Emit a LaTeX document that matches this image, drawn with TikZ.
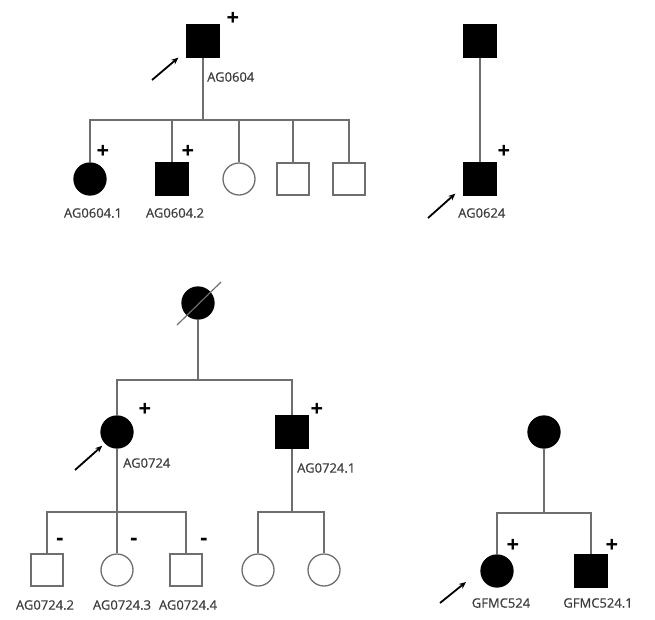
\documentclass[tikz,border=0pt]{standalone}
\usepackage{fontspec}
\setmainfont{Open Sans}
\newfontfamily\labelfont{Open Sans}[BoldFont=Open Sans, BoldFeatures={FakeBold=0.5}]
\usetikzlibrary{arrows.meta}
\definecolor{linegrey}{RGB}{110,110,110}
\definecolor{labelgrey}{RGB}{60,60,60}
\tikzset{
  male/.style={rectangle, draw=linegrey, line width=1.3pt, minimum size=32pt, inner sep=0pt},
  female/.style={circle, draw=linegrey, line width=1.3pt, minimum size=32pt, inner sep=0pt},
  affected/.style={fill=black, draw=black},
  kin/.style={draw=linegrey, line width=1.2pt},
  proband/.style={-{Stealth[length=7pt,width=6pt]}, line width=1.8pt, black},
  idlabel/.style={text=labelgrey, font=\labelfont\bfseries\fontsize{13}{15}\selectfont, inner sep=0pt},
  sign/.style={font=\fontsize{22}{22}\selectfont\bfseries, inner sep=0pt}
}
\begin{document}
\begin{tikzpicture}[x=1pt, y=-1pt]
  \useasboundingbox (0,0) rectangle (655,619);

  % family AG0604
  \node[male, affected] (f1p) at (203,41) {};
  \node[female, affected] (f1c1) at (90,179) {};
  \node[male, affected] (f1c2) at (172,179) {};
  \node[female] (f1c3) at (239,179) {};
  \node[male] (f1c4) at (293,179) {};
  \node[male] (f1c5) at (349,179) {};
  \coordinate (f1s) at (203,120);
  \draw[kin] (f1p) -- (f1s);
  \draw[kin] (f1c1.north) |- (f1s) -| (f1c5.north);
  \foreach \c in {f1c2, f1c3, f1c4}
    \draw[kin] (\c.north) -- (\c.north |- f1s);
  \node[sign] (f1pp) at (233,19) {+};
  \node[sign] (f1c1p) at (103,152) {+};
  \node[sign] (f1c2p) at (188,152) {+};
  \coordinate (f1a) at (152,80);
  \draw[proband] (f1a) -- ([shift={(-8,0)}]f1p.south west);
  \node[idlabel, anchor=west] (f1pl) at (207,77) {AG0604};
  \node[idlabel] (f1c1l) at (93,213) {AG0604.1};
  \node[idlabel] (f1c2l) at (175,213) {AG0604.2};

  % family AG0624
  \node[male, affected] (f2g) at (480,41) {};
  \node[male, affected] (f2p) at (480,179) {};
  \draw[kin] (f2g) -- (f2p);
  \node[sign] (f2pp) at (504,152) {+};
  \coordinate (f2a) at (428,218);
  \draw[proband] (f2a) -- ([shift={(-8,-2)}]f2p.south west);
  \node[idlabel, anchor=west] (f2pl) at (458,213) {AG0624};

  % family AG0724
  \node[female, affected] (f3g) at (198,303) {};
  \draw[kin] ([shift={(-21,22)}]f3g.center) -- ([shift={(23,-21)}]f3g.center);
  \node[female, affected] (f3p) at (117,432) {};
  \node[male, affected] (f3u) at (292,432) {};
  \coordinate (f3s) at (198,380);
  \draw[kin] (f3g) -- (f3s);
  \draw[kin] (f3p.north) |- (f3s) -| (f3u.north);
  \node[sign] (f3pp) at (145,410) {+};
  \node[sign] (f3up) at (317,410) {+};
  \coordinate (f3a) at (75,470);
  \draw[proband] (f3a) -- ([shift={(-3,2)}]f3p.south west);
  \node[idlabel, anchor=west] (f3pl) at (123,463) {AG0724};
  \node[idlabel, anchor=west] (f3ul) at (297,468) {AG0724.1};
  % children of AG0724
  \node[male] (f3c1) at (47,570) {};
  \node[female] (f3c2) at (117,570) {};
  \node[male] (f3c3) at (186,570) {};
  \coordinate (f3t) at (117,512);
  \draw[kin] (f3p) -- (f3c2);
  \draw[kin] (f3c1.north) |- (f3t) -| (f3c3.north);
  \node[sign] (f3c1m) at (60,542) {-};
  \node[sign] (f3c2m) at (134,542) {-};
  \node[sign] (f3c3m) at (204,542) {-};
  \node[idlabel] (f3c1l) at (45,605) {AG0724.2};
  \node[idlabel] (f3c2l) at (122,605) {AG0724.3};
  \node[idlabel] (f3c3l) at (188,605) {AG0724.4};
  % children of AG0724.1
  \node[female] (f3d1) at (258,570) {};
  \node[female] (f3d2) at (324,570) {};
  \coordinate (f3v) at (292,512);
  \draw[kin] (f3u) -- (f3v);
  \draw[kin] (f3d1.north) |- (f3v) -| (f3d2.north);

  % family GFMC524
  \node[female, affected] (f4g) at (544,432) {};
  \node[female, affected] (f4p) at (497,571) {};
  \node[male, affected] (f4b) at (591,571) {};
  \coordinate (f4s) at (544,513);
  \draw[kin] (f4g) -- (f4s);
  \draw[kin] (f4p.north) |- (f4s) -| (f4b.north);
  \node[sign] (f4pp) at (513,546) {+};
  \node[sign] (f4bp) at (612,546) {+};
  \coordinate (f4a) at (440,603);
  \draw[proband] (f4a) -- ([shift={(-31,11)}]f4p.center);
  \node[idlabel] (f4pl) at (501,603) {GFMC524};
  \node[idlabel] (f4bl) at (598,603) {GFMC524.1};
\end{tikzpicture}
\end{document}
